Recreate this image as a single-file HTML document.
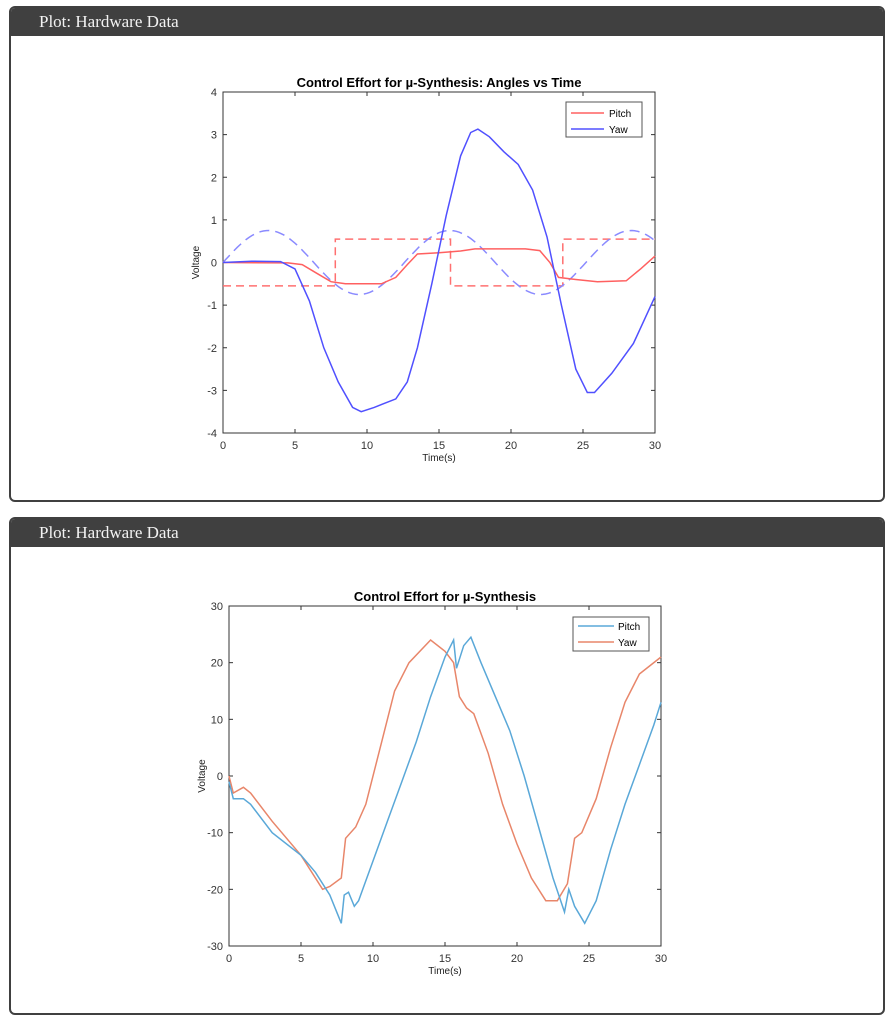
<!DOCTYPE html>
<html><head><meta charset="utf-8"><style>
body{margin:0;background:#fff;width:892px;height:1023px;position:relative;font-family:"Liberation Sans",sans-serif}
.card{position:absolute;left:9px;width:872px;border:2px solid #404040;border-radius:6px;background:#fff;overflow:hidden}
.hdr{background:#404040;color:#f2f2f2;font-family:"Liberation Serif",serif;font-size:17px;height:28px;line-height:28px;padding-left:28px}
svg{position:absolute;left:0;top:0}
</style></head><body>
<div class="card" style="top:6px;height:492px"><div class="hdr">Plot: Hardware Data</div></div>
<div class="card" style="top:517px;height:494px"><div class="hdr">Plot: Hardware Data</div></div>
<svg id="s" width="892" height="1023" font-family="Liberation Sans, sans-serif"></svg>
<script>
const s=document.getElementById('s');let h='';
function axes(x0,y0,w,hh,ymin,ymax,ystep,title,tx){
 h+=`<rect x="${x0}" y="${y0}" width="${w}" height="${hh}" fill="#fff" stroke="#333" stroke-width="1"/>`;
 for(let t=0;t<=30;t+=5){let x=x0+w*t/30;h+=`<line x1="${x}" y1="${y0+hh}" x2="${x}" y2="${y0+hh-4}" stroke="#333"/><line x1="${x}" y1="${y0}" x2="${x}" y2="${y0+4}" stroke="#333"/><text x="${x}" y="${y0+hh+16}" font-size="11" text-anchor="middle" fill="#333">${t}</text>`;}
 for(let v=ymin;v<=ymax;v+=ystep){let y=y0+hh-(v-ymin)/(ymax-ymin)*hh;h+=`<line x1="${x0}" y1="${y}" x2="${x0+4}" y2="${y}" stroke="#333"/><line x1="${x0+w}" y1="${y}" x2="${x0+w-4}" y2="${y}" stroke="#333"/><text x="${x0-6}" y="${y+4}" font-size="11" text-anchor="end" fill="#333">${v}</text>`;}
 h+=`<text x="${x0+w/2}" y="${y0-5}" font-size="13" font-weight="bold" text-anchor="middle">${title}</text>`;
 h+=`<text x="${x0+w/2}" y="${y0+hh+28}" font-size="10" text-anchor="middle" fill="#222">Time(s)</text>`;
 h+=`<text transform="translate(${x0-24},${y0+hh/2}) rotate(-90)" font-size="10" text-anchor="middle" fill="#222">Voltage</text>`;
}
function line(x0,y0,w,hh,ymin,ymax,pts,col,extra){
 let d=pts.map(p=>(x0+w*p[0]/30).toFixed(1)+','+(y0+hh-(p[1]-ymin)/(ymax-ymin)*hh).toFixed(1)).join(' ');
 h+=`<polyline points="${d}" fill="none" stroke="${col}" stroke-width="1.5" ${extra||''}/>`;
}
// plot 1
let X=223,Y=92,W=432,H=341;
axes(X,Y,W,H,-4,4,1,'Control Effort for µ-Synthesis: Angles vs Time');
let sq=[[0,-.55],[7.8,-.55],[7.8,.55],[15.8,.55],[15.8,-.55],[23.6,-.55],[23.6,.55],[30,.55]];
line(X,Y,W,H,-4,4,sq,'#ff7070','stroke-dasharray="8,5"');
let sn=[];for(let t=0;t<=30;t+=0.2)sn.push([t,0.75*Math.sin(2*Math.PI*t/12.6)]);
line(X,Y,W,H,-4,4,sn,'#8a8aff','stroke-dasharray="10,6"');
let pitch=[[0,0],[4.5,-0.01],[5.5,-0.05],[6.5,-0.25],[7.5,-0.45],[8.5,-0.5],[11,-0.5],[12,-0.35],[12.8,-0.05],[13.5,0.2],[15,0.23],[16.5,0.27],[17.5,0.32],[21,0.32],[22,0.28],[22.7,0.0],[23.3,-0.35],[24.5,-0.4],[26,-0.45],[28,-0.43],[29,-0.15],[30,0.15]];
line(X,Y,W,H,-4,4,pitch,'#ff6060');
let yaw=[[0,0],[2,0.03],[4,0.02],[5,-0.15],[6,-0.9],[7,-2.0],[8,-2.8],[9,-3.4],[9.6,-3.5],[10.5,-3.4],[12,-3.2],[12.8,-2.8],[13.5,-2],[14.5,-0.5],[15.5,1.1],[16.5,2.5],[17.2,3.05],[17.7,3.13],[18.5,2.95],[19.5,2.6],[20.5,2.3],[21.5,1.7],[22.5,0.6],[23.5,-1.0],[24.5,-2.5],[25.3,-3.05],[25.8,-3.05],[27,-2.6],[28.5,-1.9],[30,-0.8]];
line(X,Y,W,H,-4,4,yaw,'#5050ff');
h+=`<rect x="566" y="102" width="76" height="35" fill="#fff" stroke="#555"/><line x1="571" y1="113" x2="604" y2="113" stroke="#ff6060" stroke-width="1.5"/><text x="609" y="117" font-size="10">Pitch</text><line x1="571" y1="129" x2="604" y2="129" stroke="#5050ff" stroke-width="1.5"/><text x="609" y="133" font-size="10">Yaw</text>`;
// plot 2
X=229;Y=606;W=432;H=340;
axes(X,Y,W,H,-30,30,10,'Control Effort for µ-Synthesis');
let y2=[[0,0],[0.3,-3],[1,-2],[1.5,-3],[3,-8],[5,-14],[6.5,-20],[7,-19.5],[7.8,-18],[8.1,-11],[8.8,-9],[9.5,-5],[10.5,5],[11.5,15],[12.5,20],[14,24],[15,22],[15.6,20],[16,14],[16.5,12],[17,11],[18,4],[19,-5],[20,-12],[21,-18],[22,-22],[22.8,-22],[23.5,-19],[24,-11],[24.5,-10],[25.5,-4],[26.5,5],[27.5,13],[28.5,18],[30,21]];
let p2=[[0,-1],[0.3,-4],[1,-4],[1.5,-5],[3,-10],[5,-14],[6,-17],[7,-21],[7.8,-26],[8,-21],[8.3,-20.5],[8.7,-23],[9,-22],[10,-15],[11,-8],[12,-1],[13,6],[14,14],[15,21],[15.6,24],[15.8,19],[16.3,23],[16.8,24.5],[17.5,20],[18.5,14],[19.5,8],[20.5,0],[21.5,-9],[22.5,-18],[23.3,-24],[23.6,-20],[24,-23],[24.7,-26],[25.5,-22],[26.5,-13],[27.5,-5],[28.5,2],[29.5,9],[30,13]];
line(X,Y,W,H,-30,30,y2,'#e8866a');
line(X,Y,W,H,-30,30,p2,'#5aa8d8');
h+=`<rect x="573" y="617" width="76" height="34" fill="#fff" stroke="#555"/><line x1="578" y1="626" x2="614" y2="626" stroke="#5aa8d8" stroke-width="1.5"/><text x="618" y="630" font-size="10">Pitch</text><line x1="578" y1="642" x2="614" y2="642" stroke="#e8866a" stroke-width="1.5"/><text x="618" y="646" font-size="10">Yaw</text>`;
s.innerHTML=h;
</script>
</body></html>
